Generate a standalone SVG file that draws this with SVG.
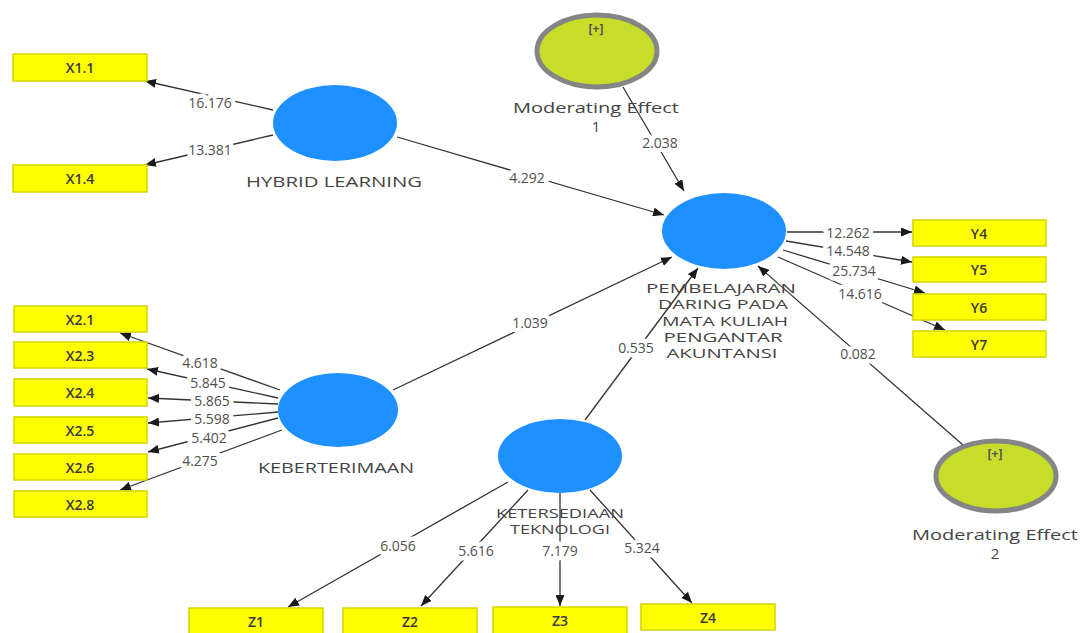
<svg xmlns="http://www.w3.org/2000/svg" width="1083" height="633" viewBox="0 0 1083 633">
<defs>
<marker id="arr" markerUnits="userSpaceOnUse" markerWidth="11" markerHeight="9" refX="11" refY="4.5" orient="auto">
<path d="M0,0 L11,4.5 L0,9 z" fill="#1a1a1a"/>
</marker>
<style>
.lv{fill:#1E90FF;}
.mod{fill:#C8DC2A;stroke:#858585;stroke-width:5;}
.box{fill:#FFFF00;stroke:#D4D400;stroke-width:1.5;}
.bt{font-family:"Open Sans","DejaVu Sans",sans-serif;font-size:14px;font-weight:600;fill:#3a3a3a;text-anchor:middle;dominant-baseline:central;}
.nl{font-family:"Open Sans","DejaVu Sans",sans-serif;font-size:13.5px;fill:#444;text-anchor:middle;dominant-baseline:central;}
.ml{font-family:"Open Sans","DejaVu Sans",sans-serif;font-size:15px;fill:#444;text-anchor:middle;dominant-baseline:central;}
.pl{font-family:"Open Sans","DejaVu Sans",sans-serif;font-size:12px;fill:#555;text-anchor:middle;dominant-baseline:central;font-weight:bold;}
.c line{stroke:#333;stroke-width:1.3;marker-end:url(#arr);}
.el{font-family:"Open Sans","DejaVu Sans",sans-serif;font-size:14px;fill:#505050;text-anchor:middle;dominant-baseline:central;stroke:#fff;stroke-width:9;paint-order:stroke;stroke-linejoin:round;}
</style>
</defs>
<rect width="1083" height="633" fill="#fff"/>

<g id="connectors" class="c">
<line x1="273" y1="110" x2="145" y2="81"/>
<line x1="273" y1="135" x2="145" y2="165"/>
<line x1="397" y1="137" x2="664" y2="215"/>
<line x1="623" y1="87" x2="684" y2="191"/>
<line x1="393" y1="390" x2="672" y2="257"/>
<line x1="585" y1="420" x2="698" y2="268"/>
<line x1="963" y1="445" x2="758" y2="266"/>
<line x1="787" y1="232" x2="912" y2="232"/>
<line x1="786" y1="241" x2="912" y2="262"/>
<line x1="783" y1="250" x2="925" y2="293"/>
<line x1="778" y1="257" x2="945" y2="330"/>
<line x1="280" y1="390" x2="120" y2="333"/>
<line x1="278" y1="398" x2="147" y2="369"/>
<line x1="278" y1="404" x2="148" y2="398"/>
<line x1="278" y1="412" x2="148" y2="423"/>
<line x1="278" y1="418" x2="148" y2="452"/>
<line x1="282" y1="430" x2="120" y2="490"/>
<line x1="508" y1="482" x2="288" y2="607"/>
<line x1="528" y1="490" x2="421" y2="606"/>
<line x1="560" y1="493" x2="560" y2="606"/>
<line x1="590" y1="490" x2="692" y2="603"/>
</g>

<g id="edge-labels">
<text class="el" x="210" y="102">16.176</text>
<text class="el" x="210" y="149">13.381</text>
<text class="el" x="527" y="177">4.292</text>
<text class="el" x="660" y="142">2.038</text>
<text class="el" x="530" y="322">1.039</text>
<text class="el" x="636" y="347">0.535</text>
<text class="el" x="858" y="353">0.082</text>
<text class="el" x="848" y="232">12.262</text>
<text class="el" x="848" y="250">14.548</text>
<text class="el" x="854" y="270">25.734</text>
<text class="el" x="860" y="293">14.616</text>
<text class="el" x="200" y="362">4.618</text>
<text class="el" x="208" y="382">5.845</text>
<text class="el" x="212" y="400">5.865</text>
<text class="el" x="212" y="418">5.598</text>
<text class="el" x="209" y="437">5.402</text>
<text class="el" x="200" y="460">4.275</text>
<text class="el" x="398" y="545">6.056</text>
<text class="el" x="476" y="550">5.616</text>
<text class="el" x="560" y="550">7.179</text>
<text class="el" x="642" y="547">5.324</text>
</g>

<g id="hybrid-learning">
<ellipse class="lv" cx="335" cy="123" rx="62" ry="38"/>
<text class="ml" x="334" y="181" textLength="176" lengthAdjust="spacingAndGlyphs">HYBRID LEARNING</text>
</g>
<g id="keberterimaan">
<ellipse class="lv" cx="338" cy="410" rx="60" ry="37"/>
<text class="ml" x="336" y="467" textLength="156" lengthAdjust="spacingAndGlyphs">KEBERTERIMAAN</text>
</g>
<g id="ketersediaan-teknologi">
<ellipse class="lv" cx="560" cy="456" rx="62" ry="37"/>
<text class="nl" x="560" y="513" textLength="128" lengthAdjust="spacingAndGlyphs">KETERSEDIAAN</text>
<text class="nl" x="560" y="529" textLength="100" lengthAdjust="spacingAndGlyphs">TEKNOLOGI</text>
</g>
<g id="pembelajaran">
<ellipse class="lv" cx="724" cy="231" rx="62" ry="38"/>
<text class="nl" x="721" y="288" textLength="150" lengthAdjust="spacingAndGlyphs">PEMBELAJARAN</text>
<text class="nl" x="723" y="304" textLength="130" lengthAdjust="spacingAndGlyphs">DARING PADA</text>
<text class="nl" x="725" y="321" textLength="126" lengthAdjust="spacingAndGlyphs">MATA KULIAH</text>
<text class="nl" x="723" y="337" textLength="119" lengthAdjust="spacingAndGlyphs">PENGANTAR</text>
<text class="nl" x="722" y="353" textLength="111" lengthAdjust="spacingAndGlyphs">AKUNTANSI</text>
</g>
<g id="moderating-effect-1">
<ellipse class="mod" cx="597" cy="51" rx="60" ry="36"/>
<text class="pl" x="596" y="28">[+]</text>
<text class="ml" x="596" y="107" textLength="166" lengthAdjust="spacingAndGlyphs">Moderating Effect</text>
<text class="ml" x="596" y="126">1</text>
</g>
<g id="moderating-effect-2">
<ellipse class="mod" cx="996" cy="476" rx="60" ry="35"/>
<text class="pl" x="995" y="453">[+]</text>
<text class="ml" x="995" y="534" textLength="166" lengthAdjust="spacingAndGlyphs">Moderating Effect</text>
<text class="ml" x="995" y="553">2</text>
</g>

<g id="X1.1"><rect class="box" x="13" y="54" width="134" height="27"/><text class="bt" x="80" y="67.5">X1.1</text></g>
<g id="X1.4"><rect class="box" x="13" y="165" width="134" height="27"/><text class="bt" x="80" y="178.5">X1.4</text></g>
<g id="X2.1"><rect class="box" x="14" y="306" width="133" height="26"/><text class="bt" x="80" y="319">X2.1</text></g>
<g id="X2.3"><rect class="box" x="14" y="342" width="133" height="26"/><text class="bt" x="80" y="355">X2.3</text></g>
<g id="X2.4"><rect class="box" x="14" y="379" width="133" height="27"/><text class="bt" x="80" y="392.5">X2.4</text></g>
<g id="X2.5"><rect class="box" x="14" y="417" width="133" height="26"/><text class="bt" x="80" y="430">X2.5</text></g>
<g id="X2.6"><rect class="box" x="14" y="454" width="133" height="26"/><text class="bt" x="80" y="467">X2.6</text></g>
<g id="X2.8"><rect class="box" x="14" y="491" width="133" height="26"/><text class="bt" x="80" y="504">X2.8</text></g>
<g id="Y4"><rect class="box" x="913" y="220" width="133" height="26"/><text class="bt" x="979" y="233">Y4</text></g>
<g id="Y5"><rect class="box" x="913" y="257" width="133" height="25"/><text class="bt" x="979" y="269.5">Y5</text></g>
<g id="Y6"><rect class="box" x="913" y="294" width="133" height="26"/><text class="bt" x="979" y="307">Y6</text></g>
<g id="Y7"><rect class="box" x="913" y="331" width="133" height="26"/><text class="bt" x="979" y="344">Y7</text></g>
<g id="Z1"><rect class="box" x="189" y="608" width="134" height="27"/><text class="bt" x="256" y="621">Z1</text></g>
<g id="Z2"><rect class="box" x="343" y="608" width="134" height="27"/><text class="bt" x="410" y="621">Z2</text></g>
<g id="Z3"><rect class="box" x="493" y="607" width="134" height="27"/><text class="bt" x="560" y="620">Z3</text></g>
<g id="Z4"><rect class="box" x="641" y="604" width="134" height="26"/><text class="bt" x="708" y="617">Z4</text></g>
</svg>
